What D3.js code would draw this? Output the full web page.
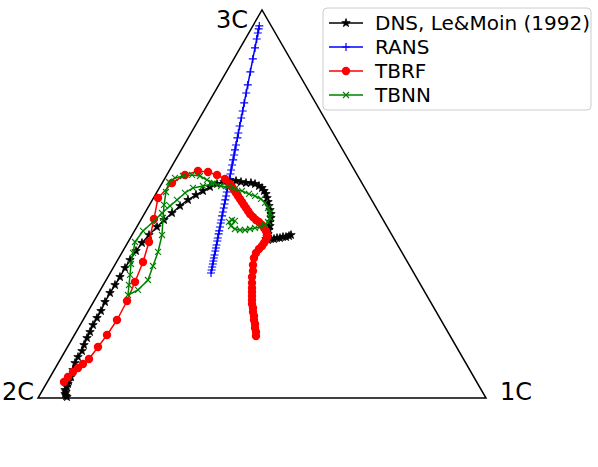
<!DOCTYPE html>
<html>
<head>
<meta charset="utf-8">
<script src="https://cdn.jsdelivr.net/npm/d3@7"></script>
<style>
  body { margin: 0; background: #fff; }
  svg { display: block; font-family: "DejaVu Sans", sans-serif; }
</style>
</head>
<body>
<div id="chart"></div>
<script>
var width = 598, height = 467;

// triangle corners (barycentric map: 2C left, 1C right, 3C top)
var cornerNames = ["2C", "1C", "3C"];
var cornerX = [0, 1, 0.5];
var cornerY = [0, 0, 0.866];

var seriesNames = ["DNS, Le&Moin (1992)", "RANS", "TBRF", "TBNN"];

var dnsPts = [
  [0.0647,0.0022],[0.0625,0.0045],[0.0603,0.0089],[0.0625,0.0134],[0.0603,0.0179],[0.0647,0.0246],
  [0.0670,0.0313],[0.0692,0.0379],[0.0737,0.0469],[0.0781,0.0625],[0.0826,0.0781],[0.0893,0.0915],
  [0.0982,0.1049],[0.1027,0.1183],[0.1094,0.1339],[0.1161,0.1473],[0.1228,0.1629],[0.1317,0.1786],
  [0.1406,0.1942],[0.1496,0.2143],[0.1607,0.2344],[0.1719,0.2522],[0.1830,0.2701],[0.1942,0.2902],
  [0.2054,0.3080],[0.2188,0.3281],[0.2321,0.3460],[0.2478,0.3638],[0.2656,0.3817],[0.2813,0.3973],
  [0.2991,0.4129],[0.3170,0.4286],[0.3348,0.4420],[0.3527,0.4531],[0.3683,0.4621],[0.3839,0.4710],
  [0.3996,0.4777],[0.4152,0.4821],[0.4286,0.4866],[0.4420,0.4844],[0.4531,0.4821],[0.4643,0.4799],
  [0.4754,0.4799],[0.4844,0.4777],[0.4933,0.4732],[0.5000,0.4688],[0.5045,0.4621],[0.5089,0.4554],
  [0.5112,0.4464],[0.5134,0.4375],[0.5156,0.4286],[0.5179,0.4196],[0.5201,0.4107],[0.5201,0.4018],
  [0.5179,0.3929],[0.5179,0.3839],[0.5156,0.3750],[0.5134,0.3661],[0.5112,0.3594],[0.5089,0.3549],
  [0.5134,0.3527],[0.5201,0.3549],[0.5268,0.3549],[0.5335,0.3571],[0.5402,0.3571],[0.5469,0.3594],
  [0.5536,0.3594],[0.5603,0.3616],[0.5647,0.3638]
];

var ransPts = [
  [0.3862,0.2790],[0.3875,0.2857],[0.3888,0.2924],[0.3902,0.2991],[0.3913,0.3058],[0.3926,0.3125],
  [0.3940,0.3192],[0.3958,0.3281],[0.3971,0.3348],[0.3984,0.3415],[0.4002,0.3504],[0.4013,0.3571],
  [0.4031,0.3661],[0.4045,0.3728],[0.4063,0.3817],[0.4080,0.3906],[0.4094,0.3973],[0.4109,0.4063],
  [0.4127,0.4152],[0.4145,0.4241],[0.4163,0.4330],[0.4181,0.4420],[0.4199,0.4509],[0.4214,0.4598],
  [0.4232,0.4688],[0.4254,0.4799],[0.4272,0.4888],[0.4295,0.5000],[0.4310,0.5089],[0.4333,0.5201],
  [0.4355,0.5313],[0.4377,0.5424],[0.4397,0.5536],[0.4420,0.5647],[0.4451,0.5804],[0.4473,0.5915],
  [0.4502,0.6071],[0.4538,0.6250],[0.4569,0.6406],[0.4603,0.6585],[0.4647,0.6808],[0.4683,0.6987],
  [0.4739,0.7277],[0.4795,0.7567],[0.4844,0.7813],[0.4882,0.8013],[0.4908,0.8147],[0.4926,0.8237],
  [0.4940,0.8304]
];

var tbrfPts = [
  [0.0580,0.0357],[0.0670,0.0469],[0.0781,0.0580],[0.0893,0.0670],[0.1004,0.0759],[0.1138,0.0871],
  [0.1339,0.1138],[0.1540,0.1406],[0.1763,0.1741],[0.1987,0.2165],[0.2165,0.2589],[0.2344,0.3036],
  [0.2478,0.3482],[0.2589,0.3996],[0.2679,0.4464],[0.2991,0.4799],[0.3281,0.4978],[0.3571,0.5067],
  [0.3795,0.5045],[0.3996,0.4978],[0.4174,0.4888],[0.4286,0.4777],[0.4330,0.4710],[0.4375,0.4643],
  [0.4420,0.4576],[0.4464,0.4509],[0.4509,0.4442],[0.4554,0.4375],[0.4598,0.4308],[0.4643,0.4241],
  [0.4688,0.4174],[0.4732,0.4107],[0.4799,0.4040],[0.4866,0.3973],[0.4933,0.3929],[0.5000,0.3862],
  [0.5045,0.3795],[0.5089,0.3728],[0.5112,0.3661],[0.5112,0.3594],[0.5089,0.3527],[0.5045,0.3460],
  [0.5000,0.3393],[0.4933,0.3326],[0.4866,0.3237],[0.4821,0.3125],[0.4799,0.2969],[0.4799,0.2835],
  [0.4777,0.2701],[0.4777,0.2567],[0.4777,0.2455],[0.4777,0.2366],[0.4777,0.2277],[0.4777,0.2188],
  [0.4777,0.2098],[0.4799,0.2009],[0.4799,0.1920],[0.4821,0.1830],[0.4821,0.1741],[0.4844,0.1652],
  [0.4844,0.1563],[0.4866,0.1473],[0.4866,0.1384]
];

var tbnnPts = [
  [0.3884,0.4777],[0.3683,0.4732],[0.3460,0.4688],[0.3281,0.4576],[0.3103,0.4420],[0.2946,0.4286],
  [0.2768,0.4129],[0.2567,0.3929],[0.2344,0.3728],[0.2165,0.3482],[0.2121,0.3237],[0.2076,0.2991],
  [0.2054,0.2746],[0.2031,0.2522],[0.2009,0.2299],[0.2232,0.2411],[0.2455,0.2634],[0.2567,0.2946],
  [0.2679,0.3259],[0.2768,0.3638],[0.2790,0.4018],[0.2813,0.4308],[0.2857,0.4598],[0.2924,0.4821],
  [0.3058,0.4911],[0.3237,0.4955],[0.3438,0.4978],[0.3616,0.4955],[0.3772,0.4866],[0.3929,0.4799],
  [0.4085,0.4732],[0.4241,0.4710],[0.4397,0.4665],[0.4554,0.4621],[0.4710,0.4554],[0.4844,0.4509],
  [0.4978,0.4442],[0.5067,0.4353],[0.5134,0.4241],[0.5179,0.4129],[0.5179,0.4018],[0.5134,0.3929],
  [0.5067,0.3862],[0.4955,0.3817],[0.4844,0.3795],[0.4732,0.3772],[0.4621,0.3750],[0.4509,0.3750],
  [0.4397,0.3772],[0.4308,0.3839],[0.4263,0.3929],[0.4330,0.3973],[0.4397,0.3951]
];

var xScale = d3.scaleLinear().domain([0, 1]).range([38, 486]);
var yScale = d3.scaleLinear().domain([0, 0.866]).range([398, 10]);

var svg = d3.select("#chart").append("svg")
    .attr("width", width)
    .attr("height", height);

// triangle outline
var corners = cornerNames.map(function(n, i) { return {name: n, x: cornerX[i], y: cornerY[i]}; });
svg.append("path")
    .attr("d", d3.line().x(function(d) { return xScale(d.x); }).y(function(d) { return yScale(d.y); })(corners) + "Z")
    .attr("fill", "none")
    .attr("stroke", "#000")
    .attr("stroke-width", 1.5)
    .attr("stroke-linejoin", "miter");

var labelOffsets = {"2C": [-4, 2, "end"], "1C": [14, 2, "start"], "3C": [-14, 18, "end"]};
svg.selectAll(".corner-label")
    .data(corners)
    .enter().append("text")
    .attr("class", "corner-label")
    .attr("x", function(d) { return xScale(d.x) + labelOffsets[d.name][0]; })
    .attr("y", function(d) { return yScale(d.y) + labelOffsets[d.name][1]; })
    .attr("text-anchor", function(d) { return labelOffsets[d.name][2]; })
    .attr("font-size", 24)
    .text(function(d) { return d.name; });

var line = d3.line()
    .x(function(d) { return xScale(d[0]); })
    .y(function(d) { return yScale(d[1]); });

var series = [
  {name: seriesNames[0], pts: dnsPts, color: "#000000", marker: "star"},
  {name: seriesNames[1], pts: ransPts, color: "#0000ff", marker: "plus"},
  {name: seriesNames[2], pts: tbrfPts, color: "#ff0000", marker: "circle"},
  {name: seriesNames[3], pts: tbnnPts, color: "#008000", marker: "cross"}
];

function drawMarker(g, type, color) {
  if (type === "star") {
    g.append("path").attr("d", d3.symbol().type(d3.symbolStar).size(22)())
      .attr("fill", color).attr("stroke", color).attr("stroke-width", 0.8);
  } else if (type === "plus") {
    g.append("path").attr("d", "M-4,0H4M0,-4V4")
      .attr("stroke", color).attr("stroke-width", 1.2).attr("fill", "none");
  } else if (type === "circle") {
    g.append("circle").attr("r", 4.2).attr("fill", color);
  } else {
    g.append("path").attr("d", "M-3,-3L3,3M-3,3L3,-3")
      .attr("stroke", color).attr("stroke-width", 1.1).attr("fill", "none");
  }
}

series.forEach(function(s) {
  var g = svg.append("g").attr("class", "series");
  g.append("path")
    .attr("d", line(s.pts))
    .attr("fill", "none")
    .attr("stroke", s.color)
    .attr("stroke-width", 1.5)
    .attr("stroke-linejoin", "round");
  g.selectAll(".mk")
    .data(s.pts)
    .enter().append("g")
    .attr("class", "mk")
    .attr("transform", function(d) { return "translate(" + xScale(d[0]) + "," + yScale(d[1]) + ")"; })
    .each(function() { drawMarker(d3.select(this), s.marker, s.color); });
});

// legend
var legend = svg.append("g").attr("transform", "translate(323,8)");
legend.append("rect")
    .attr("width", 268)
    .attr("height", 102)
    .attr("rx", 4)
    .attr("fill", "#fff")
    .attr("fill-opacity", 0.8)
    .attr("stroke", "#cccccc");

var items = legend.selectAll(".item")
    .data(series)
    .enter().append("g")
    .attr("class", "item")
    .attr("transform", function(d, i) { return "translate(0," + (15 + i * 24) + ")"; });

items.append("line")
    .attr("x1", 6).attr("x2", 40)
    .attr("stroke", function(d) { return d.color; })
    .attr("stroke-width", 1.5);

items.append("g")
    .attr("transform", "translate(23,0)")
    .each(function(d) { drawMarker(d3.select(this), d.marker, d.color); });

items.append("text")
    .attr("x", 52)
    .attr("y", 7)
    .attr("font-size", 20)
    .text(function(d) { return d.name; });
</script>
</body>
</html>
